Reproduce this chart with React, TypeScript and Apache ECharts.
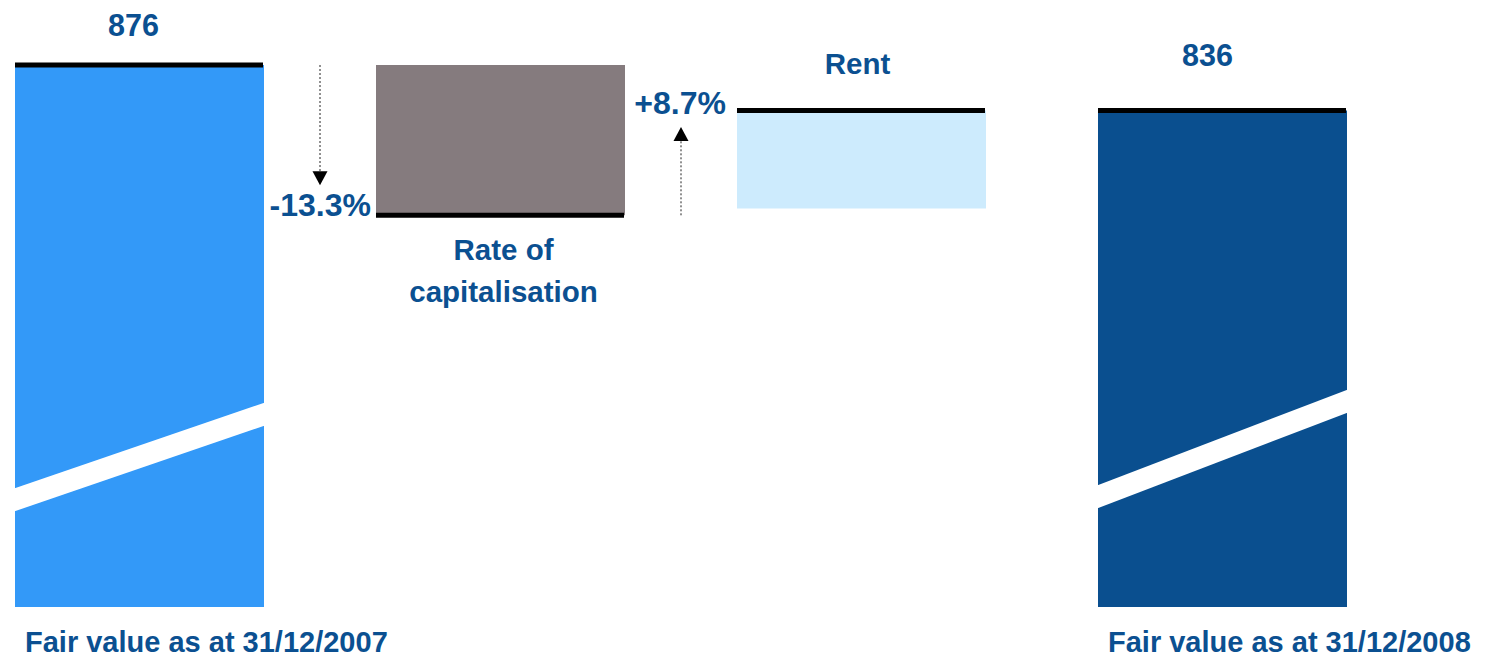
import React, { useEffect, useRef } from "react";
import * as echarts from "echarts";

// ---- data ----
const categories = [
  "Fair value as at 31/12/2007",
  "Rate of capitalisation",
  "Rent",
  "Fair value as at 31/12/2008",
];
const totals: (number | null)[] = [876, null, null, 836];
const changeFrom: (number | null)[] = [null, 876, 750, null];
const changeTo: (number | null)[] = [null, 744, 836, null];
const changeLabels: (string | null)[] = [null, "-13.3%", "+8.7%", null];
const AXIS_MIN = 400;
const AXIS_MAX = 876;

// ---- styles ----
const BAR_COLORS = ["#3399f8", "#857b7e", "#cdebfd", "#0a4f8f"];
const TEXT_COLOR = "#0b5091";
const FONT = "Liberation Sans, Arial, sans-serif";
const BAR_W = 249;
const X_MIN = -0.38643;
const X_MAX = 3.73546;

export default function App() {
  const ref = useRef<HTMLDivElement>(null);
  useEffect(() => {
    if (!ref.current) return;
    const chart = echarts.init(ref.current, undefined, { renderer: "svg" });

    const data = categories.map((_, i) => {
      if (totals[i] != null) return [i, AXIS_MIN, totals[i] as number];
      const a = changeFrom[i] as number;
      const b = changeTo[i] as number;
      return [i, Math.min(a, b), Math.max(a, b)];
    });
    const endValue = (i: number) => (totals[i] != null ? (totals[i] as number) : (changeTo[i] as number));

    const txt = (text: string, x: number, y: number, align: string, size = 29.5, lineHeight?: number) => ({
      type: "text",
      x,
      y,
      style: {
        text,
        fill: TEXT_COLOR,
        fontFamily: FONT,
        fontWeight: "bold",
        fontSize: size,
        align,
        verticalAlign: "middle",
        lineHeight: lineHeight,
      },
    });

    const renderItem = (params: any, api: any) => {
      const idx = params.dataIndex;
      const low = api.value(1);
      const high = api.value(2);
      const pLow = api.coord([idx, low]);
      const pHigh = api.coord([idx, high]);
      const cx = pLow[0];
      const band = api.size([1, 0])[0];
      const x0 = cx - BAR_W / 2;
      const x1 = cx + BAR_W / 2;
      const yEnd = api.coord([idx, endValue(idx)])[1];
      const children: any[] = [];
      children.push({
        type: "rect",
        shape: { x: x0, y: pHigh[1], width: BAR_W, height: pLow[1] - pHigh[1] },
        style: { fill: BAR_COLORS[idx] },
      });
      children.push({
        type: "rect",
        shape: { x: x0, y: yEnd - 2.5, width: BAR_W - 1, height: 5 },
        style: { fill: "#000" },
      });
      if (totals[idx] != null) {
        const bottom = pLow[1];
        const off = idx === 0 ? [107, 193] : [110, 206];
        const h = 11.5;
        children.push({
          type: "polygon",
          shape: {
            points: [
              [x0 - 1, bottom - off[0] - h],
              [x1 + 1, bottom - off[1] - h],
              [x1 + 1, bottom - off[1] + h],
              [x0 - 1, bottom - off[0] + h],
            ],
          },
          style: { fill: "#fff" },
        });
        const vOff = idx === 0 ? [-6, -40] : [-15, -56];
        children.push(txt(String(totals[idx]), cx + vOff[0], pHigh[1] + vOff[1], "center", 30.5));
        children.push(txt(categories[idx], x0 + 10, bottom + 35, "left", 29));
      } else {
        const up = (changeTo[idx] as number) > (changeFrom[idx] as number);
        const prevEnd = api.coord([idx, endValue(idx - 1)])[1];
        const ax = cx - band / 2;
        const tip = up ? yEnd + 16.5 : yEnd - 30;
        const head = 14;
        const lineEnd = up ? tip + head : tip - head;
        children.push({
          type: "line",
          shape: { x1: ax, y1: prevEnd, x2: ax, y2: lineEnd },
          style: { stroke: "#222", lineWidth: 1, lineDash: [2, 2] },
        });
        children.push({
          type: "polygon",
          shape: {
            points: [
              [ax - 7.5, lineEnd],
              [ax + 7.5, lineEnd],
              [ax, tip],
            ],
          },
          style: { fill: "#000" },
        });
        if (up) {
          children.push(txt(changeLabels[idx] as string, x0 - 11, yEnd - 8, "right", 32));
          children.push(txt(categories[idx], cx - 4, yEnd - 47, "center"));
        } else {
          children.push(txt(changeLabels[idx] as string, x0 - 5, yEnd - 10, "right", 32));
          children.push(txt(categories[idx].replace("of ", "of\n"), cx + 3, yEnd + 55, "center", 29.5, 42));
        }
      }
      return { type: "group", children };
    };

    chart.setOption({
      animation: false,
      grid: { left: 0, right: 0, top: 65, bottom: 50 },
      xAxis: { type: "value", min: X_MIN, max: X_MAX, show: false },
      yAxis: { type: "value", min: AXIS_MIN, max: AXIS_MAX, show: false },
      series: [
        {
          type: "custom",
          renderItem,
          data,
          encode: { x: 0, y: [1, 2] },
        },
      ],
    });
    return () => chart.dispose();
  }, []);
  return (
    <div
      ref={ref}
      style={{ position: "absolute", left: 0, top: 0, width: 1488, height: 657, background: "#fff" }}
    />
  );
}
